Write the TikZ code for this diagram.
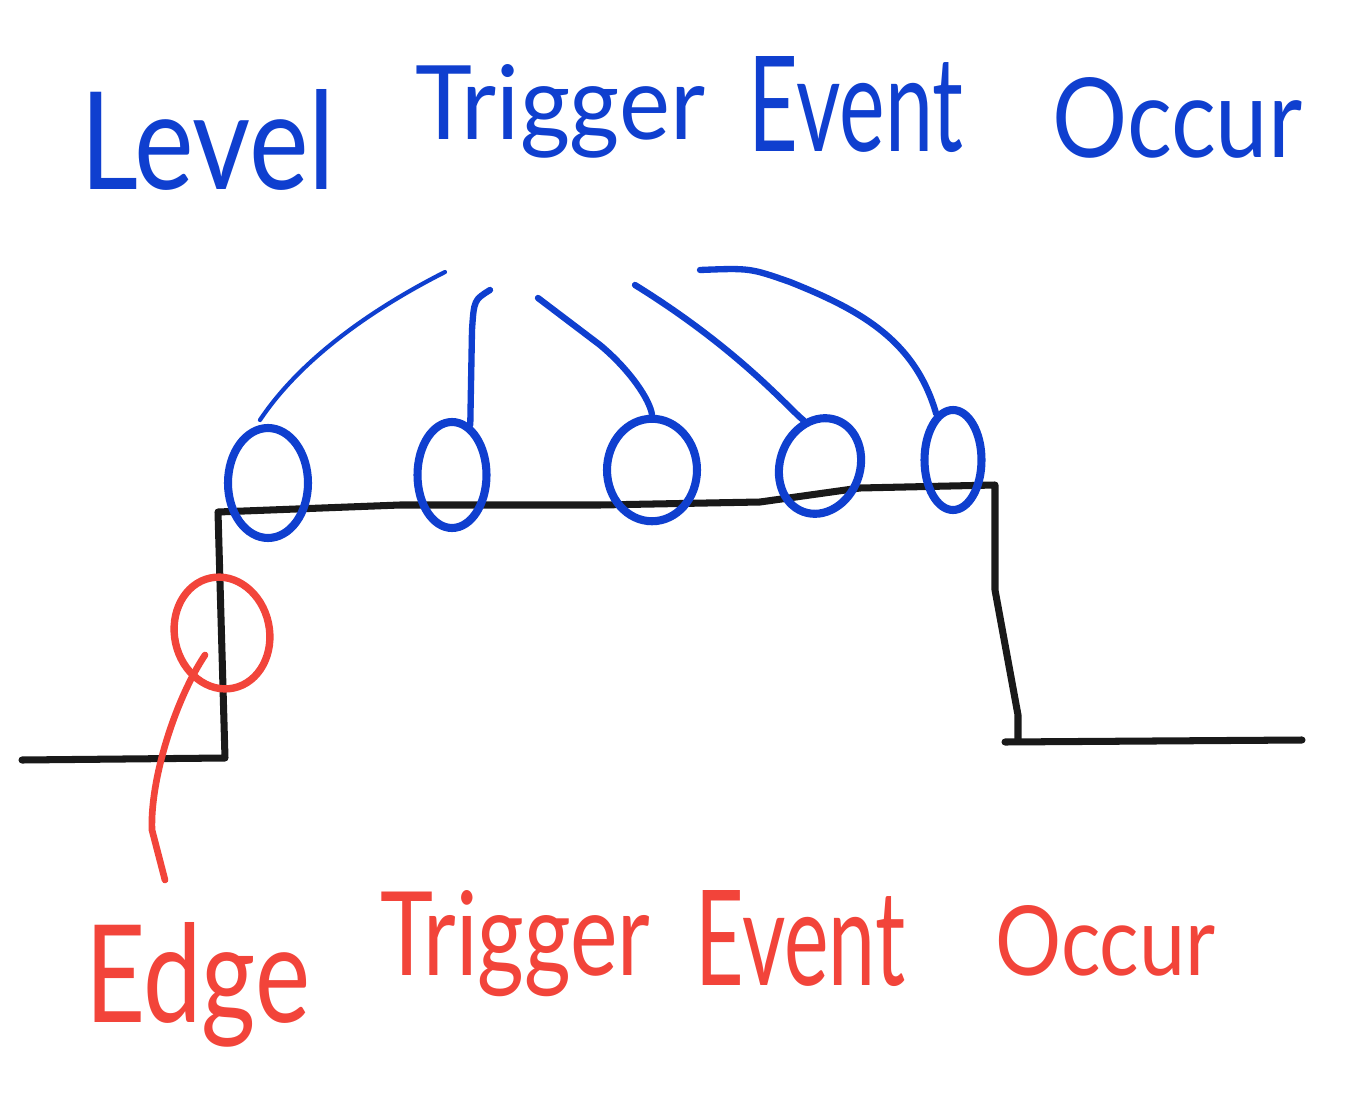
\documentclass[tikz,border=0pt]{standalone}
\usepackage{fontspec}
\setmainfont{Lato}
\usetikzlibrary{shapes.geometric}
\definecolor{penblue}{HTML}{0F3FCF}
\definecolor{penred}{HTML}{F2443A}
\newcommand{\handword}[3]{\resizebox{#1}{#2}{#3}}

\begin{document}
\begin{tikzpicture}[x=0.02cm, y=-0.02cm,
    signal/.style={line width=4pt, black!90, line cap=round, line join=round},
    blob/.style={ellipse, draw=penblue, line width=4.6pt, inner sep=0pt},
    redblob/.style={ellipse, draw=penred, line width=4.2pt, inner sep=0pt},
    link/.style={penblue, line width=3.6pt, line cap=round},
    redlink/.style={penred, line width=3.8pt, line cap=round},
    blueword/.style={text=penblue, anchor=base west, inner sep=0pt},
    redword/.style={text=penred, anchor=base west, inner sep=0pt}
]
\useasboundingbox[fill=white] (0,0) rectangle (1352,1108);

% ============================
% Titles
% ============================
\node[blueword] (levelw) at (80,190)  {\handword{5.1cm}{2.0cm}{Level}};
\node[blueword] (trigw)  at (415,140) {\handword{5.8cm}{1.5cm}{Trigger}};
\node[blueword] (eventw) at (748,152) {\handword{4.3cm}{1.9cm}{Event}};
\node[blueword] (occurw) at (1052,158) {\handword{5.0cm}{1.6cm}{Occur}};

\node[redword] (edgew)   at (85,1022)  {\handword{4.5cm}{2.0cm}{Edge}};
\node[redword] (etrigw)  at (380,975)  {\handword{5.4cm}{1.7cm}{Trigger}};
\node[redword] (eeventw) at (695,985)  {\handword{4.2cm}{1.9cm}{Event}};
\node[redword] (eoccurw) at (995,975)  {\handword{4.4cm}{1.4cm}{Occur}};

% ============================
% Signal
% ============================
\draw[signal] (22,760) -- (225,758) -- (218,512)
    -- (400,505) -- (600,505) -- (760,502) -- (860,488) -- (995,485)
    -- (995,590) -- (1018,715) -- (1018,740);
\draw[signal] (1005,742) -- (1302,740);

% ============================
% Level marks
% ============================
\node[blob, minimum width=1.6cm,  minimum height=2.2cm] (lv1) at (268,483) {};
\node[blob, minimum width=1.38cm, minimum height=2.12cm] (lv2) at (452,475) {};
\node[blob, minimum width=1.8cm,  minimum height=2.05cm] (lv3) at (652,470) {};
\node[blob, minimum width=1.6cm,  minimum height=1.95cm, rotate=-20] (lv4) at (820,466) {};
\node[blob, minimum width=1.14cm, minimum height=2.0cm] (lv5) at (953,460) {};

\coordinate (lt1) at (445,272);
\coordinate (lt2) at (490,290);
\coordinate (lt3) at (538,298);
\coordinate (lt4) at (635,285);
\coordinate (lt5) at (700,270);

\draw[link, line width=2.4pt] (260,420) .. controls (300,360) and (370,310) .. (lt1);
\draw[link] (lv2.70) -- (472,330) .. controls (474,300) .. (lt2);
\draw[link] (lv3.north) .. controls (650,400) and (630,370) .. (600,345) -- (lt3);
\draw[link] (lv4.north west) .. controls (790,410) and (740,350) .. (lt4);
\draw[link] (lv5.110) .. controls (915,340) and (860,310) .. (790,282) .. controls (750,268) .. (lt5);

% ============================
% Edge mark
% ============================
\node[redblob, minimum width=1.9cm, minimum height=2.25cm, rotate=12] (ed1) at (222,633) {};
\coordinate (et1) at (165,880);
\draw[redlink] (205,655) .. controls (175,700) and (150,780) .. (152,830) -- (et1);

\end{tikzpicture}
\end{document}
